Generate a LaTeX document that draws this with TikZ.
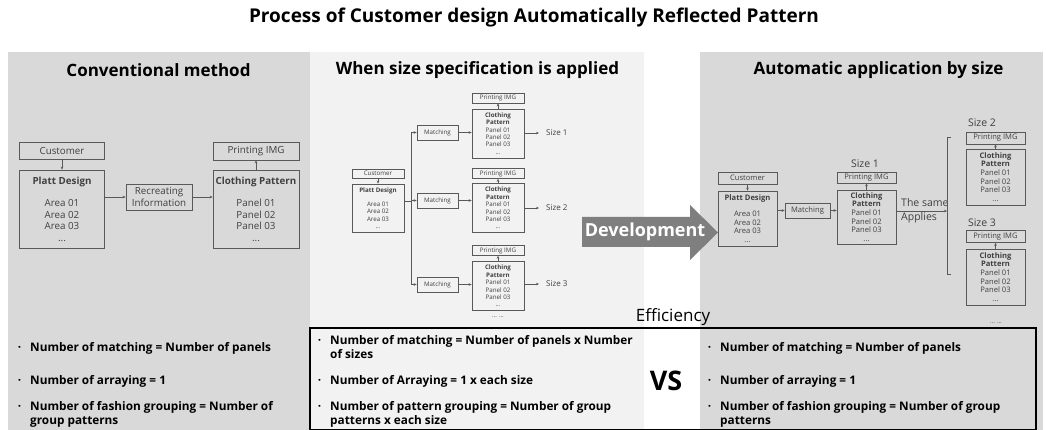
\documentclass[tikz,border=0pt]{standalone}
\usepackage{fontspec}
\setmainfont{Open Sans}
\usepackage{xcolor}
\usetikzlibrary{positioning,calc,arrows.meta}

\definecolor{panelgray}{HTML}{D9D9D9}
\definecolor{panellight}{HTML}{F2F2F2}
\definecolor{boxline}{HTML}{595959}
\definecolor{boxtext}{HTML}{404040}
\definecolor{devgray}{HTML}{7F7F7F}

\newcommand{\fsz}[2]{\fontsize{#1pt}{#2pt}\selectfont}
\newcommand{\dotitem}{\llap{·\hspace{9pt}}}

\begin{document}
\begin{tikzpicture}[x=1pt, y=-1pt,
    conn/.style={draw=boxline, line width=0.6pt},
    arr/.style={-{Stealth[length=3pt,width=2.6pt]}},
    box/.style={draw=boxline, line width=0.6pt, text=boxtext, inner sep=0pt, align=center},
    bigbox/.style={box, font=\fsz{9.8}{11.5}},
    tinybox/.style={box, font=\fsz{6.2}{7.4}},
    midbox/.style={box, font=\fsz{7.6}{8.6}},
    sizelabel/.style={text=boxtext, inner sep=0pt, font=\fsz{10.5}{13}},
    paneltitle/.style={font=\bfseries\fsz{17}{20}},
    item/.style={align=left, anchor=west, inner sep=0pt, font=\bfseries\fsz{11.8}{14}}]
    \useasboundingbox (0,0) rectangle (1046,430);

    % Title
    \node[font=\bfseries\fsz{19}{22}] (title) at (534,18) {Process of Customer design Automatically Reflected Pattern};

    % Panels
    \fill[panelgray] (8,52) rectangle (310,430);
    \fill[panellight] (310,52) rectangle (644,430);
    \fill[panelgray] (700,52) rectangle (1043,430);

    \node[paneltitle] (conv) at (158.5,70) {Conventional method};
    \node[paneltitle] (spec) at (477.5,70) {When size specification is applied};
    \node[paneltitle] (auto) at (878.5,70) {Automatic application by size};

    % Conventional method
    \node[bigbox, minimum width=85, minimum height=17] (cust1) at (62,151) {Customer};
    \node[bigbox, minimum width=85, minimum height=78] (platt1) at (62,209)
        {\textbf{Platt Design}\\[11pt]Area 01\\Area 02\\Area 03\\...};
    \node[bigbox, minimum width=66, minimum height=26] (recr1) at (159,197) {Recreating\\Information};
    \node[bigbox, minimum width=86, minimum height=18] (print1) at (256,151) {Printing IMG};
    \node[bigbox, minimum width=86, minimum height=78] (cloth1) at (256,209)
        {\textbf{Clothing Pattern}\\[11pt]Panel 01\\Panel 02\\Panel 03\\...};
    \draw[conn,arr] (cust1) -- (platt1);
    \draw[conn,arr] (platt1.east |- recr1) -- (recr1);
    \draw[conn,arr] (recr1) -- (cloth1.west |- recr1);
    \draw[conn,arr] (cloth1) -- (print1);

    % When size specification is applied
    \node[tinybox, minimum width=52, minimum height=9] (cust2) at (378,173.5) {Customer};
    \node[tinybox, minimum width=52, minimum height=48] (platt2) at (378,208)
        {\textbf{Platt Design}\\[7pt]Area 01\\Area 02\\Area 03\\...};
    \draw[conn,arr] (cust2) -- (platt2);
    \coordinate (split) at (411,201);
    \foreach \i/\yc/\ym/\yp/\ys in {1/133.5/132.5/98/133, 2/208/200.5/173.5/208, 3/286/284.5/250.5/284} {
        \node[tinybox, minimum width=41, minimum height=15] (match\i) at (437.5,\ym) {Matching};
        \node[tinybox, minimum width=52, minimum height=49] (clothm\i) at (498,\yc)
            {\textbf{Clothing}\\\textbf{Pattern}\\Panel 01\\Panel 02\\Panel 03\\...};
        \node[tinybox, minimum width=52, minimum height=10] (printm\i) at (498,\yp) {Printing IMG};
        \node[text=boxtext, inner sep=0pt, font=\fsz{8}{9}, anchor=west] (sizem\i) at (546,\ys) {Size \i};
        \draw[conn,arr] (split |- match\i) -- (match\i);
        \draw[conn,arr] (match\i) -- (clothm\i.west |- match\i);
        \draw[conn,arr, shorten >=7pt] (clothm\i.east |- sizem\i) -- (sizem\i.west);
        \draw[conn,arr] (clothm\i) -- (printm\i);
    }
    \draw[conn] (platt2.east |- split) -- (split);
    \draw[conn] (split |- match1) -- (split |- match3);
    \node[text=boxtext, font=\fsz{6}{7}] (morem) at (498,317) {... ...};

    % Automatic application by size
    \node[midbox, minimum width=59, minimum height=12] (cust3) at (747.5,178) {Customer};
    \node[midbox, minimum width=59, minimum height=55] (platt3) at (747.5,218.5)
        {\textbf{Platt Design}\\[8pt]Area 01\\Area 02\\Area 03\\...};
    \node[midbox, minimum width=45, minimum height=15] (match4) at (807.5,210.5) {Matching};
    \node[midbox, minimum width=59, minimum height=54] (clothA) at (866.5,217)
        {\textbf{Clothing}\\\textbf{Pattern}\\Panel 01\\Panel 02\\Panel 03\\...};
    \node[midbox, minimum width=59, minimum height=11] (printA) at (866.5,177.5) {Printing IMG};
    \node[sizelabel] (sizeA) at (865,164) {Size 1};
    \node[sizelabel, anchor=west] (same) at (901,203) {The same};
    \node[sizelabel, anchor=west] (applies) at (901,218) {Applies};
    \draw[conn,arr] (cust3) -- (platt3);
    \draw[conn,arr] (platt3.east |- match4) -- (match4);
    \draw[conn,arr] (match4) -- (clothA.west |- match4);
    \draw[conn,arr] (clothA) -- (printA);

    % Bracket
    \coordinate (brk) at (947,211);
    \coordinate (brtop) at (947,137);
    \coordinate (brbot) at (947,274);
    \draw[conn] ($(brtop)+(4,0)$) -- (brtop) -- (brbot) -- ++(4,0);
    \draw[conn,arr] (clothA.east |- brk) -- (brk);

    \foreach \s/\n/\yl/\yp/\yc in {B/2/123/138/177, C/3/223/236.5/277} {
        \node[sizelabel] (size\s) at (982,\yl) {Size \n};
        \node[midbox, minimum width=59, minimum height=12] (print\s) at (995.5,\yp) {Printing IMG};
        \node[midbox, minimum width=59, minimum height=56] (cloth\s) at (995.5,\yc)
            {\textbf{Clothing}\\\textbf{Pattern}\\Panel 01\\Panel 02\\Panel 03\\...};
        \draw[conn,arr] (cloth\s) -- (print\s);
    }
    \node[text=boxtext, font=\fsz{6}{7}] (morea) at (996,323) {... ...};

    % Development arrow
    \fill[devgray] (582,217) -- (690,217) -- (690,205) -- (718,232.5) -- (690,260) -- (690,247) -- (582,247) -- cycle;
    \node[text=white, font=\bfseries\fsz{18}{22}] (dev) at (645,232) {Development};

    % Comparison
    \node[font=\fsz{17}{20}] (eff) at (673,317) {Efficiency};
    \draw[line width=1.2pt] (310,328) rectangle (1036,429.4);
    \node[font=\bfseries\fsz{27}{30}] (vs) at (666,381) {VS};

    \node[item] (l1) at (30,348) {\dotitem Number of matching = Number of panels};
    \node[item] (l2) at (30,381) {\dotitem Number of arraying = 1};
    \node[item] (l3) at (30,414) {\dotitem Number of fashion grouping = Number of\\group patterns};

    \node[item] (m1) at (330,347) {\dotitem Number of matching = Number of panels x Number\\of sizes};
    \node[item] (m2) at (330,381) {\dotitem Number of Arraying = 1 x each size};
    \node[item] (m3) at (330,414) {\dotitem Number of pattern grouping = Number of group\\patterns x each size};

    \node[item] (r1) at (720,348) {\dotitem Number of matching = Number of panels};
    \node[item] (r2) at (720,381) {\dotitem Number of arraying = 1};
    \node[item] (r3) at (720,414) {\dotitem Number of fashion grouping = Number of group\\patterns};
\end{tikzpicture}
\end{document}
